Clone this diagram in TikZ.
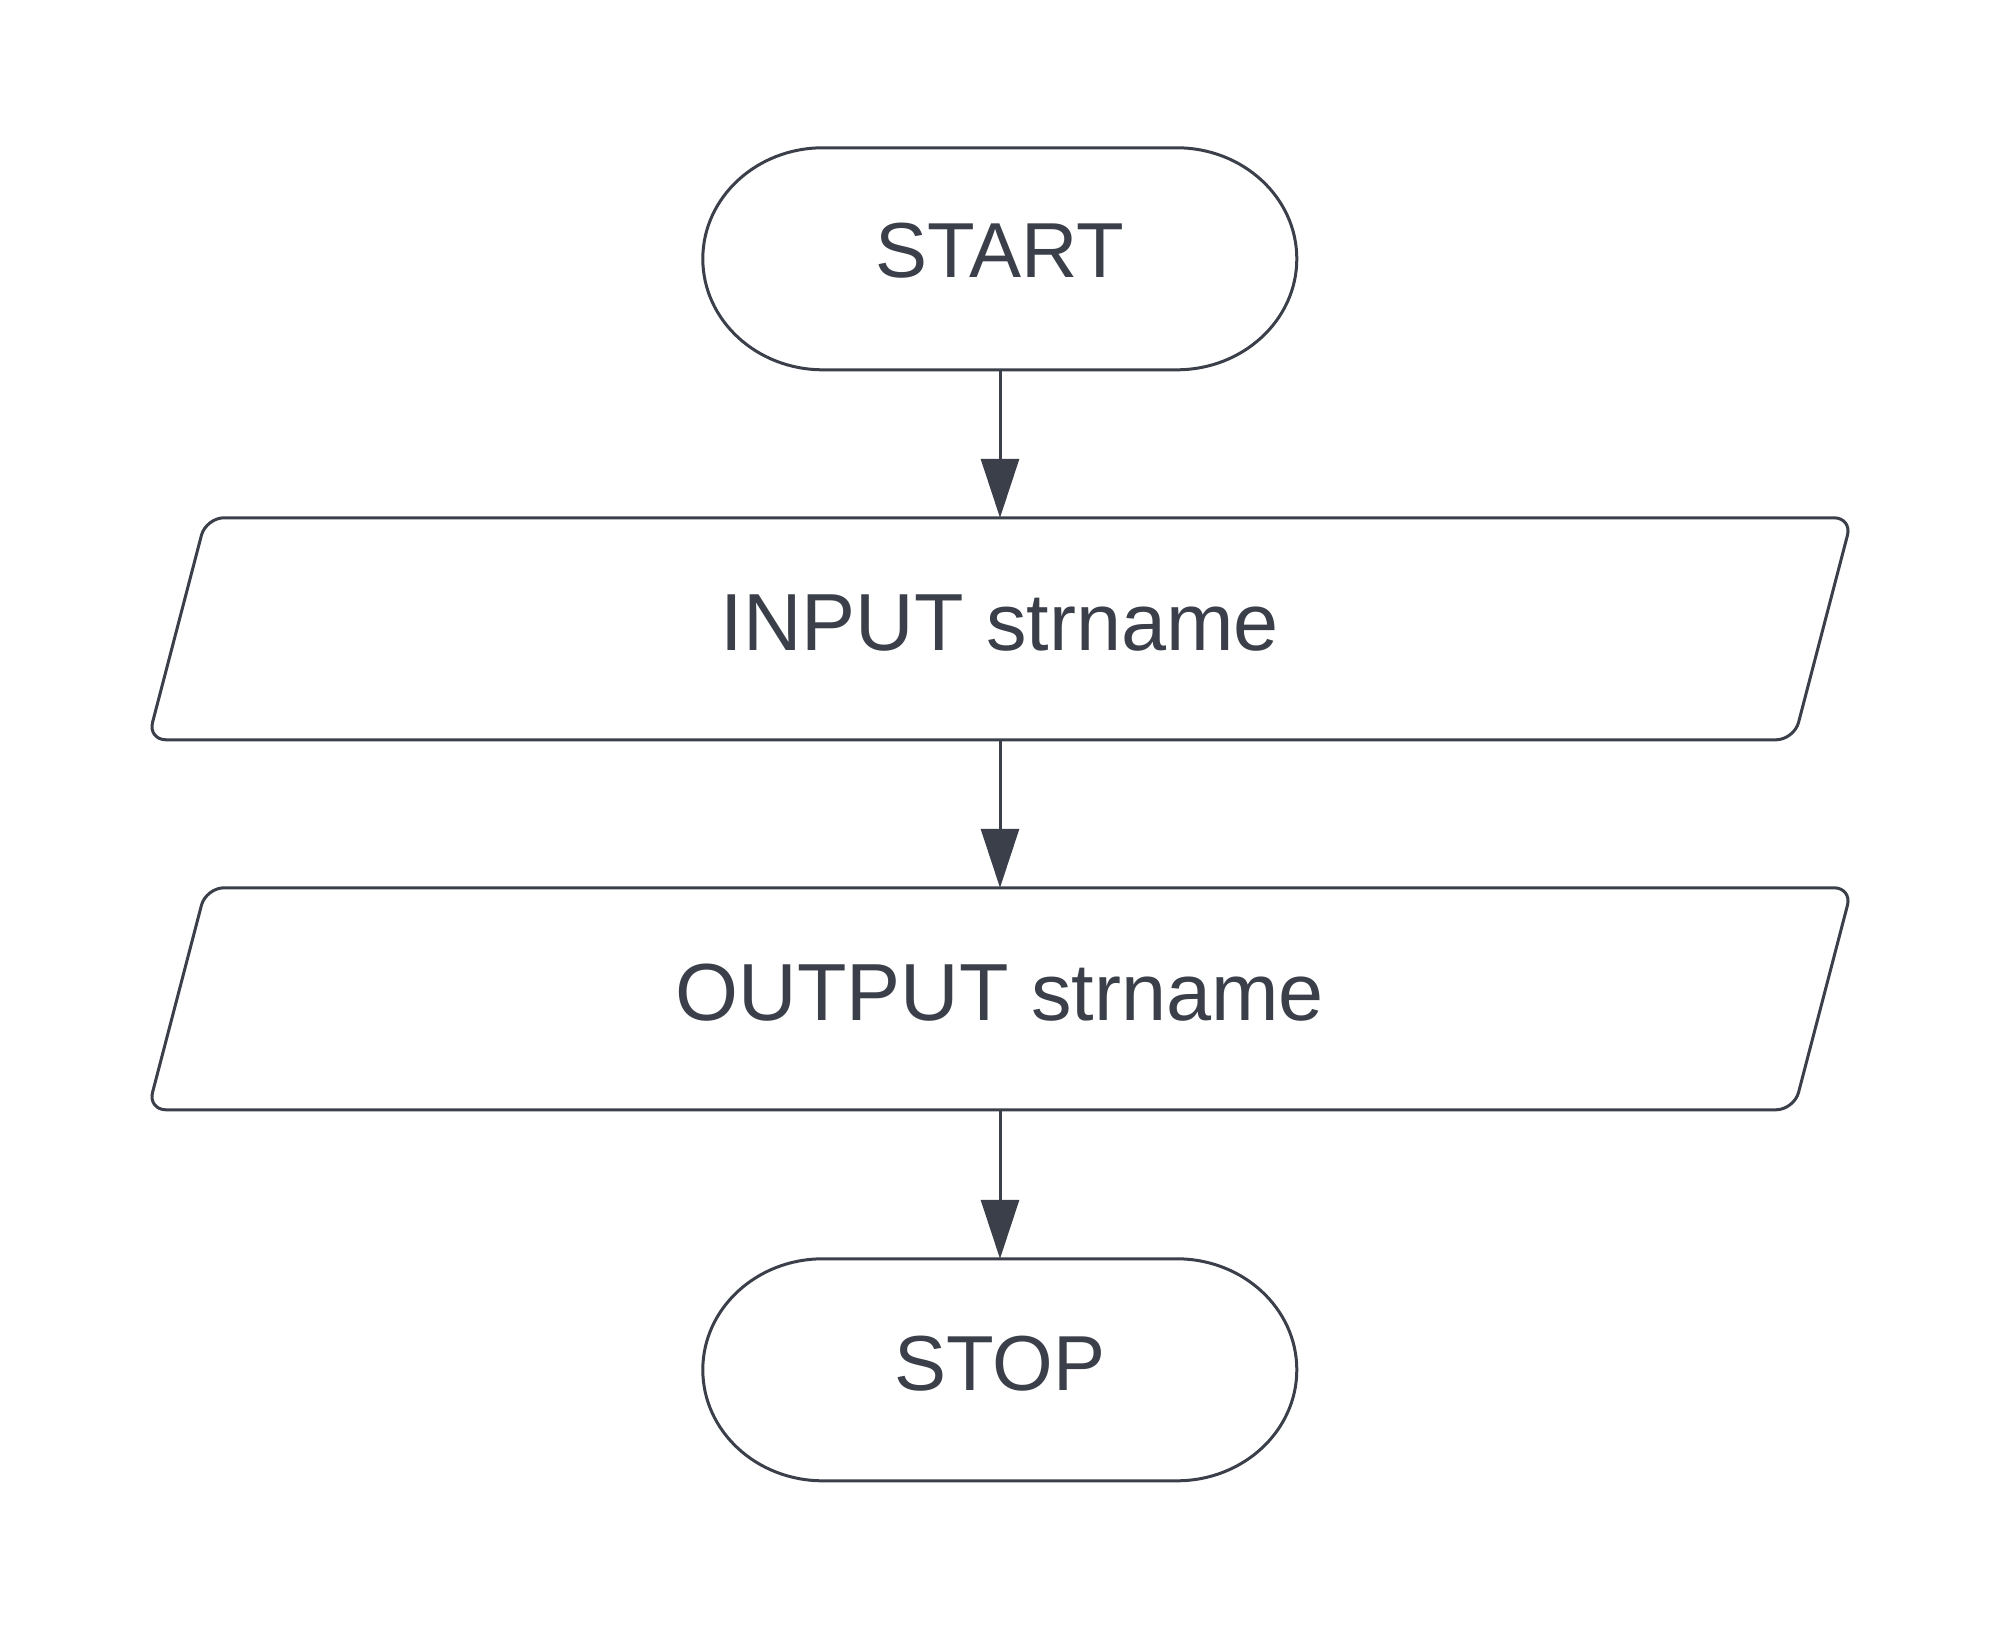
\documentclass[tikz,border=0pt]{standalone}
\usepackage{fontspec}
\setmainfont{Liberation Sans}
\usetikzlibrary{arrows.meta,calc}
\definecolor{ink}{HTML}{3A3F4A}
\tikzset{
  outline/.style={draw=ink, line width=3pt, fill=white},
  shapebox/.style={draw=none, inner sep=0pt, minimum width=#1, minimum height=222pt},
  termtext/.style={anchor=base, text=ink, inner sep=0pt, font=\fontsize{78}{90}\selectfont},
  iotext/.style={anchor=base, text=ink, inner sep=0pt, font=\fontsize{81}{92}\selectfont},
  flow/.style={draw=ink, line width=3pt, -{Triangle[length=59pt,width=38pt]}},
}
\begin{document}
\begin{tikzpicture}[x=1pt,y=-1pt]
\useasboundingbox[fill=white] (0,0) rectangle (2000,1629);

% shape placeholders
\node[shapebox=594pt] (start) at (1000,259) {};
\node[shapebox=1646pt] (in) at (1000,629) {};
\node[shapebox=1646pt] (out) at (1000,999) {};
\node[shapebox=594pt] (stop) at (1000,1370) {};

% terminals
\foreach \n in {start,stop}{
  \draw[outline] ([xshift=120pt]\n.north west) -- ++(354,0)
    arc[start angle=90,end angle=-90,x radius=120pt,y radius=111pt]
    -- ++(-354,0)
    arc[start angle=270,end angle=90,x radius=120pt,y radius=111pt] -- cycle;
}
% input / output parallelograms
\foreach \n in {in,out}{
  \draw[outline, rounded corners=18pt] (\n.north) -- ++(852,0) -- ++(-58,222)
    -- ++(-1646,0) -- ++(58,-222) -- cycle;
}

% texts
\node[termtext] (startlabel) at (1000,278) {START};
\node[iotext] (inlabel) at (1000,650) {INPUT strname};
\node[iotext] (outlabel) at (1000,1020) {OUTPUT strname};
\node[termtext] (stoplabel) at (1000,1390) {STOP};

% connectors
\draw[flow] (start.south) -- (in.north);
\draw[flow] (in.south) -- (out.north);
\draw[flow] (out.south) -- (stop.north);
\end{tikzpicture}
\end{document}
